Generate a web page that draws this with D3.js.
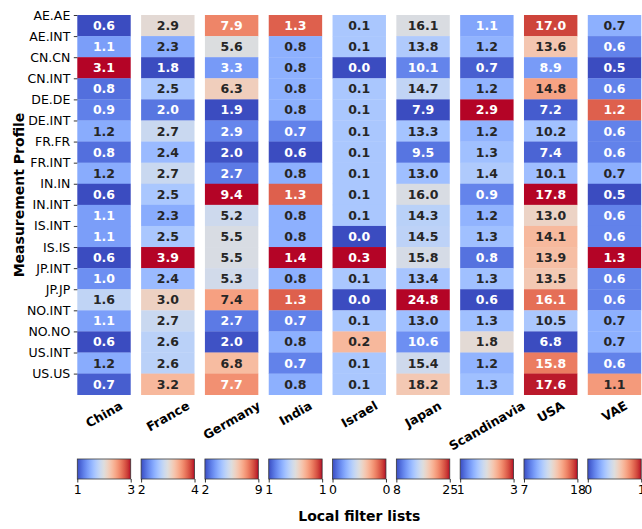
<!DOCTYPE html>
<html>
<head>
<meta charset="utf-8">
<script src="https://cdn.jsdelivr.net/npm/d3@7"></script>
<style>
  html, body { margin: 0; padding: 0; background: #ffffff; }
  svg { display: block; font-family: "DejaVu Sans", sans-serif; }
</style>
</head>
<body>
<svg id="chart" width="642" height="529"></svg>
<script>
// Measurement profiles (rows) and local filter lists (columns)
const profiles = ["AE.AE", "AE.INT", "CN.CN", "CN.INT", "DE.DE", "DE.INT", "FR.FR", "FR.INT",
  "IN.IN", "IN.INT", "IS.INT", "IS.IS", "JP.INT", "JP.JP", "NO.INT", "NO.NO", "US.INT", "US.US"];
const lists = ["China", "France", "Germany", "India", "Israel", "Japan", "Scandinavia", "USA", "VAE"];

// One value per profile for each filter list
const china       = [0.6, 1.1, 3.1, 0.8, 0.9, 1.2, 0.8, 1.2, 0.6, 1.1, 1.1, 0.6, 1.0, 1.6, 1.1, 0.6, 1.2, 0.7];
const france      = [2.9, 2.3, 1.8, 2.5, 2.0, 2.7, 2.4, 2.7, 2.5, 2.3, 2.5, 3.9, 2.4, 3.0, 2.7, 2.6, 2.6, 3.2];
const germany     = [7.9, 5.6, 3.3, 6.3, 1.9, 2.9, 2.0, 2.7, 9.4, 5.2, 5.5, 5.5, 5.3, 7.4, 2.7, 2.0, 6.8, 7.7];
const india       = [1.3, 0.8, 0.8, 0.8, 0.8, 0.7, 0.6, 0.8, 1.3, 0.8, 0.8, 1.4, 0.8, 1.3, 0.7, 0.8, 0.7, 0.8];
const israel      = [0.1, 0.1, 0.0, 0.1, 0.1, 0.1, 0.1, 0.1, 0.1, 0.1, 0.0, 0.3, 0.1, 0.0, 0.1, 0.2, 0.1, 0.1];
const japan       = [16.1, 13.8, 10.1, 14.7, 7.9, 13.3, 9.5, 13.0, 16.0, 14.3, 14.5, 15.8, 13.4, 24.8, 13.0, 10.6, 15.4, 18.2];
const scandinavia = [1.1, 1.2, 0.7, 1.2, 2.9, 1.2, 1.3, 1.4, 0.9, 1.2, 1.3, 0.8, 1.3, 0.6, 1.3, 1.8, 1.2, 1.3];
const usa         = [17.0, 13.6, 8.9, 14.8, 7.2, 10.2, 7.4, 10.1, 17.8, 13.0, 14.1, 13.9, 13.5, 16.1, 10.5, 6.8, 15.8, 17.6];
const vae         = [0.7, 0.6, 0.5, 0.6, 1.2, 0.6, 0.6, 0.7, 0.5, 0.6, 0.6, 1.3, 0.6, 0.6, 0.7, 0.7, 0.6, 1.1];

const columns = [china, france, germany, india, israel, japan, scandinavia, usa, vae];

// Diverging "coolwarm" palette (Moreland), sampled at 33 stops
const coolwarmStops = [
  [59,76,192],[68,90,204],[77,104,215],[87,117,225],[98,130,234],[108,142,241],[119,154,247],
  [130,165,251],[141,176,254],[152,185,255],[163,194,255],[174,201,253],[184,208,249],[194,213,244],
  [204,217,238],[213,219,230],[221,221,221],[229,216,209],[236,211,197],[241,204,185],[245,196,173],
  [247,187,160],[247,177,148],[247,166,135],[244,154,123],[241,141,111],[236,127,99],[229,112,88],
  [222,96,77],[213,80,66],[203,62,56],[192,40,47],[180,4,38]
].map(c => d3.rgb(c[0], c[1], c[2]).toString());
const coolwarm = d3.scaleLinear()
  .domain(d3.range(coolwarmStops.length).map(i => i / (coolwarmStops.length - 1)))
  .range(coolwarmStops)
  .interpolate(d3.interpolateRgb)
  .clamp(true);

// Round half to even for the colour bar end labels
function fmt0(v) {
  const f = Math.floor(v), d = v - f;
  if (Math.abs(d - 0.5) < 1e-9) return String(f % 2 === 0 ? f : f + 1);
  return String(Math.round(v));
}

// Pick dark or light annotation text by the cell colour's luminance
function textColor(fill) {
  const c = d3.rgb(fill);
  const lin = v => { v /= 255; return v <= 0.03928 ? v / 12.92 : Math.pow((v + 0.055) / 1.055, 2.4); };
  const L = 0.2126 * lin(c.r) + 0.7152 * lin(c.g) + 0.0722 * lin(c.b);
  return L > 0.408 ? "#262626" : "#ffffff";
}

const svg = d3.select("#chart");
const plotTop = 15, plotBottom = 394.7, plotLeft = 77.3, plotRight = 641.2;

const x = d3.scaleBand().domain(lists).range([plotLeft, plotRight]).paddingInner(0.163).paddingOuter(0);
const y = d3.scaleBand().domain(profiles).range([plotTop, plotBottom]).padding(0);

// Heatmap columns, each with its own colour normalisation
lists.forEach((name, ci) => {
  const vals = columns[ci];
  const ext = d3.extent(vals);
  const norm = d3.scaleLinear().domain(ext).range([0, 1]);
  const g = svg.append("g").attr("class", "col");
  const cells = g.selectAll("g").data(vals).join("g");
  cells.append("rect")
    .attr("x", x(name))
    .attr("y", (d, i) => y(profiles[i]))
    .attr("width", x.bandwidth())
    .attr("height", y.bandwidth() + 0.3)
    .attr("fill", d => coolwarm(norm(d)));
  cells.append("text")
    .attr("x", x(name) + x.bandwidth() / 2)
    .attr("y", (d, i) => y(profiles[i]) + y.bandwidth() / 2)
    .attr("text-anchor", "middle")
    .attr("dominant-baseline", "central")
    .attr("font-size", 12.5)
    .attr("font-weight", "bold")
    .attr("fill", d => textColor(coolwarm(norm(d))))
    .text(d => d.toFixed(1));

  // Small horizontal colour bar under the column
  const cbTop = 459, cbH = 20;
  const gradId = "grad" + ci;
  const grad = svg.append("defs").append("linearGradient").attr("id", gradId);
  coolwarmStops.forEach((c, i) => {
    grad.append("stop").attr("offset", (i / (coolwarmStops.length - 1) * 100) + "%").attr("stop-color", c);
  });
  const cbx = d3.scaleLinear().domain(ext).range([x(name), x(name) + x.bandwidth()]);
  svg.append("rect")
    .attr("x", x(name)).attr("y", cbTop)
    .attr("width", x.bandwidth()).attr("height", cbH)
    .attr("fill", `url(#${gradId})`)
    .attr("stroke", "#3a3a3a").attr("stroke-width", 0.8);
  const cbAxis = svg.append("g")
    .attr("transform", `translate(0,${cbTop + cbH})`)
    .call(d3.axisBottom(cbx).tickValues(ext).tickFormat(fmt0).tickSize(3.5).tickPadding(2.5));
  cbAxis.select(".domain").remove();
  cbAxis.selectAll("line").attr("stroke", "#000").attr("stroke-width", 0.8);
  cbAxis.selectAll("text").attr("font-size", 12.5).attr("font-family", "DejaVu Sans").attr("fill", "#000");
});

// Row labels sit on the upper edge of each row
const yTicks = d3.scalePoint().domain(profiles)
  .range([y(profiles[0]), y(profiles[profiles.length - 1])]);
const yAxis = svg.append("g")
  .attr("transform", `translate(${plotLeft},0)`)
  .call(d3.axisLeft(yTicks).tickSize(3.5).tickPadding(3.5));
yAxis.select(".domain").remove();
yAxis.selectAll("line").attr("stroke", "#000").attr("stroke-width", 0.8);
yAxis.selectAll("text").attr("font-size", 12.5).attr("font-family", "DejaVu Sans").attr("fill", "#000");

// Rotated column labels, centred under each column
const labelTop = 398;
const colLabels = svg.append("g");
lists.forEach(name => {
  const t = colLabels.append("text")
    .attr("font-size", 12.5)
    .attr("font-weight", "bold")
    .attr("text-anchor", "middle")
    .attr("dominant-baseline", "central")
    .text(name);
  const w = t.node().getComputedTextLength();
  const h = 12.5 * 1.17;
  const a = Math.PI / 6;
  const H = w * Math.sin(a) + h * Math.cos(a);
  const cx = x(name) + x.bandwidth() / 2;
  const cy = labelTop + H / 2;
  t.attr("transform", `translate(${cx},${cy}) rotate(-30)`);
});

// Axis titles
svg.append("text")
  .attr("x", (plotLeft + plotRight) / 2).attr("y", 516)
  .attr("text-anchor", "middle").attr("dominant-baseline", "central")
  .attr("font-size", 14).attr("font-weight", "bold")
  .text("Local filter lists");

svg.append("text")
  .attr("transform", "translate(18.5,195) rotate(-90)")
  .attr("text-anchor", "middle").attr("dominant-baseline", "central")
  .attr("font-size", 14).attr("font-weight", "bold")
  .text("Measurement Profile");
</script>
</body>
</html>
